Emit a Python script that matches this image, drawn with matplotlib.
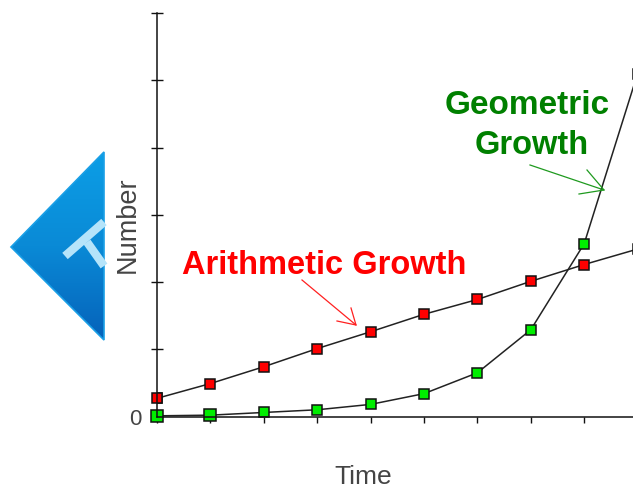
import numpy as np
import matplotlib
matplotlib.use("Agg")
import matplotlib.pyplot as plt
from matplotlib.patches import Polygon

plt.rcParams['font.family'] = ['Liberation Sans', 'DejaVu Sans']

# values
time = [0, 1, 2, 3, 4, 5, 6, 7, 8, 9]
arithmetic = [0.27, 0.49, 0.74, 1.01, 1.26, 1.52, 1.74, 2.01, 2.26, 2.49]
geometric = [0.01, 0.02, 0.06, 0.10, 0.18, 0.34, 0.65, 1.29, 2.57, 5.10]
x_ticks = [0, 1, 2, 3, 4, 5, 6, 7, 8]
y_ticks = [0, 1, 2, 3, 4, 5, 6]

W, H = 633, 489
fig = plt.figure(figsize=(W / 100, H / 100), dpi=100)

# overlay in pixel coords for the logo, labels and hand drawn arrows
ov = fig.add_axes([0, 0, 1, 1], zorder=3)
ov.set_xlim(0, W)
ov.set_ylim(H, 0)
ov.axis('off')

# main plot
ax = fig.add_axes([157 / W, (H - 417.5) / H, (W - 157) / W, 403.5 / H], zorder=2)
ax.patch.set_alpha(0)
ax.set_xlim(0, 476 / 53.4)
ax.set_ylim(0, 6)
for s in ['top', 'right']:
    ax.spines[s].set_visible(False)
for s in ['left', 'bottom']:
    ax.spines[s].set_linewidth(1.1)
    ax.spines[s].set_color('#111111')
ax.set_xticks(x_ticks)
ax.set_yticks(y_ticks)
ax.set_xticklabels([])
ax.set_yticklabels(['0', '', '', '', '', '', ''], fontsize=16, color='#444444')
ax.tick_params(axis='x', direction='out', length=4.5, width=1.0, color='#111111')
ax.tick_params(axis='y', direction='inout', length=8, width=1.0, color='#111111', pad=7)

ax.plot(time, arithmetic, color='#222222', lw=1.1, marker='s', ms=7, mfc='#ff0000',
        mec='#111111', mew=1.1)
ax.plot(time, geometric, color='#222222', lw=1.1, marker='s', ms=7, mfc='#00ee00',
        mec='#111111', mew=1.1)
# first markers sit on the axis and are not cut off
ax.plot(time[0], arithmetic[0], marker='s', ms=7, mfc='#ff0000', mec='#111111', mew=1.1, clip_on=False)
ax.plot(time[:2], geometric[:2], ls='none', marker='s', ms=8, mfc='#00ee00', mec='#111111', mew=1.1, clip_on=False)

ov.text(128, 225, 'Number', rotation=90, fontsize=19.5, color='#444444', ha='center', va='center')
ov.text(363, 477, 'Time', fontsize=19, color='#444444', ha='center', va='center')
ov.text(324, 265, 'Arithmetic Growth', fontsize=23.5, fontweight='bold', color='#ff0000',
        ha='center', va='center')
ov.text(527, 106, 'Geometric', fontsize=24, fontweight='bold', color='#008000', ha='center', va='center')
ov.text(532, 146, 'Growth', fontsize=23.5, fontweight='bold', color='#008000', ha='center', va='center')

# hand drawn arrows
ov.plot([302, 356], [281, 326], color='#ff2020', lw=0.9)
ov.plot([351, 356, 337], [309, 326, 322], color='#ff2020', lw=0.9)
ov.plot([530, 604], [166, 191], color='#1f9a1f', lw=0.9)
ov.plot([587, 604, 579], [171, 191, 195], color='#1f9a1f', lw=0.9)

# blue logo cut off at the right
grad = np.linspace(0, 1, 200).reshape(-1, 1)
logo = ov.imshow(grad, extent=(11, 104, 341, 153), aspect='auto', zorder=1,
                 cmap=matplotlib.colors.LinearSegmentedColormap.from_list(
                     'logo', ['#0c9ee6', '#0a8ad6', '#0562ba']))
diamond = Polygon([(104, 153), (11, 248), (104, 341)], closed=True, fc='none', ec='#1a9fe6',
                  lw=1.2, transform=ov.transData, zorder=2)
ov.add_patch(diamond)
logo.set_clip_path(diamond)
ov.plot([65, 104], [257, 223], color='#b5e4fa', lw=6, solid_capstyle='butt', zorder=3)
ov.plot([87, 104], [243, 267], color='#b5e4fa', lw=6, solid_capstyle='butt', zorder=3)
ov.set_xlim(0, W)
ov.set_ylim(H, 0)

fig.savefig('out.png', dpi=100)
